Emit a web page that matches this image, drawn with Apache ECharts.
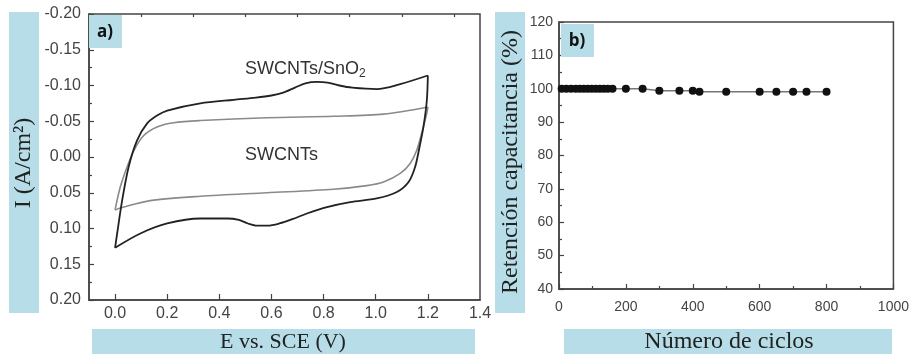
<!DOCTYPE html>
<html>
<head>
<meta charset="utf-8">
<script src="https://cdn.jsdelivr.net/npm/echarts@6/dist/echarts.min.js"></script>
<style>
html,body{margin:0;padding:0;background:#fff;}
#chart{width:912px;height:354px;}
</style>
</head>
<body>
<div id="chart"></div>
<script>
// ---- Panel a) cyclic voltammograms [E (V), I (A/cm2)] ----
var cvSnO2Forward = [[0.000,0.127],[0.008,0.107],[0.027,0.061],[0.052,0.014],[0.084,-0.023],[0.123,-0.047],[0.161,-0.058],[0.200,-0.065],[0.327,-0.075],[0.455,-0.080],[0.540,-0.083],[0.600,-0.086],[0.645,-0.090],[0.690,-0.097],[0.730,-0.103],[0.775,-0.105],[0.815,-0.104],[0.860,-0.100],[0.910,-0.097],[1.004,-0.095],[1.094,-0.102],[1.200,-0.114]];
var cvSnO2Reverse = [[1.200,-0.114],[1.196,-0.079],[1.183,-0.042],[1.168,-0.014],[1.151,0.014],[1.126,0.035],[1.081,0.049],[1.004,0.058],[0.902,0.063],[0.813,0.070],[0.736,0.079],[0.680,0.087],[0.630,0.093],[0.585,0.096],[0.545,0.096],[0.510,0.093],[0.475,0.088],[0.430,0.086],[0.327,0.086],[0.200,0.093],[0.097,0.107],[0.000,0.127]];
var cvSwForward = [[0.000,0.074],[0.020,0.042],[0.046,0.014],[0.072,-0.009],[0.110,-0.030],[0.161,-0.042],[0.225,-0.048],[0.327,-0.051],[0.583,-0.055],[0.838,-0.057],[1.030,-0.060],[1.200,-0.070]];
var cvSwReverse = [[1.200,-0.070],[1.196,-0.061],[1.176,-0.033],[1.157,-0.009],[1.132,0.009],[1.094,0.023],[1.030,0.035],[0.966,0.040],[0.838,0.045],[0.583,0.050],[0.327,0.055],[0.135,0.061],[0.033,0.070],[0.000,0.074]];
var xTicksA = [0, 0.2, 0.4, 0.6, 0.8, 1.0, 1.2, 1.4];
var xMinorA = [0.1, 0.3, 0.5, 0.7, 0.9, 1.1, 1.3];

// ---- Panel b) capacitance retention ----
var cycles = [8, 22, 36, 50, 62, 74, 86, 98, 110, 122, 134, 146, 160, 200, 250, 300, 360, 400, 420, 500, 600, 650, 700, 740, 800];
var retention = [100, 100, 100, 100, 100, 100, 100, 100, 100, 100, 100, 100, 100, 100, 100, 99.4, 99.4, 99.4, 99.1, 99.1, 99.1, 99.1, 99.1, 99.1, 99.1];

var labelsA = {a: 'a)', b: 'b)'};
var BLUE = '#B7DEE8';
var AX = '#444';
var chart = echarts.init(document.getElementById('chart'), null, {renderer: 'canvas'});

function zip(xs, ys){ return xs.map(function(x,i){ return [x, ys[i]]; }); }

var option = {
  animation: false,
  backgroundColor: '#fff',
  grid: [
    {left: 89, top: 14, width: 391, height: 286, show: true, borderColor: AX, borderWidth: 1.5, backgroundColor: 'transparent'},
    {left: 559, top: 22, width: 337, height: 267, show: true, borderColor: AX, borderWidth: 1.5, backgroundColor: 'transparent'}
  ],
  xAxis: [
    {gridIndex: 0, type: 'value', min: -0.1, max: 1.4, interval: 0.1,
     axisLine: {show: true, onZero: false, lineStyle: {color: AX, width: 1.5}},
     axisTick: {show: true, inside: true, length: 6, customValues: xTicksA.slice(0, 7), lineStyle: {color: AX, width: 1.2}},
     axisLabel: {customValues: xTicksA, margin: 6, color: '#444', fontSize: 16, fontFamily: 'Liberation Sans, Arial', formatter: function(v){ return v.toFixed(1); }},
     splitLine: {show: false}},
    {gridIndex: 0, type: 'value', min: -0.1, max: 1.4, interval: 0.1,
     axisLine: {show: false, onZero: false},
     axisTick: {show: true, inside: true, length: 3, customValues: xMinorA, lineStyle: {color: AX, width: 1.2}},
     axisLabel: {show: false},
     splitLine: {show: false}},
    {gridIndex: 1, type: 'value', min: 0, max: 1000, interval: 200,
     axisLine: {show: true, onZero: false, lineStyle: {color: AX, width: 1.5}},
     axisTick: {show: true, inside: true, length: 5, lineStyle: {color: AX, width: 1.2}},
     minorTick: {show: true, splitNumber: 2, length: 3, lineStyle: {color: AX, width: 1.2}},
     axisLabel: {margin: 11, color: '#444', fontSize: 14, fontFamily: 'Liberation Sans, Arial', showMaxLabel: true, formatter: function(v){ return String(v); }},
     splitLine: {show: false}}
  ],
  yAxis: [
    {gridIndex: 0, type: 'value', min: -0.2, max: 0.2, interval: 0.05, inverse: true,
     axisLine: {show: true, onZero: false, lineStyle: {color: AX, width: 1.5}},
     axisTick: {show: true, inside: true, length: 5, lineStyle: {color: AX, width: 1.2}},
     minorTick: {show: true, splitNumber: 2, length: 3, lineStyle: {color: AX, width: 1.2}},
     axisLabel: {margin: 8, color: '#444', fontSize: 16, fontFamily: 'Liberation Sans, Arial', formatter: function(v){ return v.toFixed(2); }},
     splitLine: {show: false}},
    {gridIndex: 1, type: 'value', min: 40, max: 120, interval: 10,
     axisLine: {show: true, onZero: false, lineStyle: {color: AX, width: 1.5}},
     axisTick: {show: true, inside: true, length: 5, lineStyle: {color: AX, width: 1.2}},
     minorTick: {show: true, splitNumber: 2, length: 3, lineStyle: {color: AX, width: 1.2}},
     axisLabel: {margin: 6, color: '#444', fontSize: 14, fontFamily: 'Liberation Sans, Arial'},
     splitLine: {show: false}}
  ],
  series: [
    {type: 'line', xAxisIndex: 0, yAxisIndex: 0, data: cvSwForward, smooth: 0.3, showSymbol: false, lineStyle: {color: '#8a8a8a', width: 1.6}, z: 2},
    {type: 'line', xAxisIndex: 0, yAxisIndex: 0, data: cvSwReverse, smooth: 0.3, showSymbol: false, lineStyle: {color: '#8a8a8a', width: 1.6}, z: 2},
    {type: 'line', xAxisIndex: 0, yAxisIndex: 0, data: cvSnO2Forward, smooth: 0.3, showSymbol: false, lineStyle: {color: '#222', width: 1.8}, z: 3},
    {type: 'line', xAxisIndex: 0, yAxisIndex: 0, data: cvSnO2Reverse, smooth: 0.3, showSymbol: false, lineStyle: {color: '#222', width: 1.8}, z: 3},
    {type: 'line', xAxisIndex: 2, yAxisIndex: 1, data: zip(cycles, retention), symbol: 'circle', symbolSize: 8,
     itemStyle: {color: '#111', borderWidth: 0},
     lineStyle: {color: '#777', width: 1.3}, z: 3}
  ],
  graphic: [
    // axis title boxes
    {type: 'rect', shape: {x: 9, y: 12, width: 30, height: 301}, style: {fill: BLUE}, z: 0},
    {type: 'rect', shape: {x: 92, y: 329, width: 383, height: 25}, style: {fill: BLUE}, z: 0},
    {type: 'rect', shape: {x: 495, y: 12, width: 30, height: 301}, style: {fill: BLUE}, z: 0},
    {type: 'rect', shape: {x: 564, y: 329, width: 328, height: 25}, style: {fill: BLUE}, z: 0},
    {type: 'text', x: 24, y: 163, rotation: Math.PI / 2, z: 5,
     style: {text: 'I (A/cm²)', textAlign: 'center', textVerticalAlign: 'middle', font: '24px "Liberation Serif", serif', fill: '#222'}},
    {type: 'text', x: 283, y: 342, z: 5,
     style: {text: 'E vs. SCE (V)', textAlign: 'center', textVerticalAlign: 'middle', font: '22px "Liberation Serif", serif', fill: '#222'}},
    {type: 'text', x: 511, y: 162, rotation: Math.PI / 2, z: 5,
     style: {text: 'Retención capacitancia (%)', textAlign: 'center', textVerticalAlign: 'middle', font: '24px "Liberation Serif", serif', fill: '#222'}},
    {type: 'text', x: 729, y: 342, z: 5,
     style: {text: 'Número de ciclos', textAlign: 'center', textVerticalAlign: 'middle', font: '24px "Liberation Serif", serif', fill: '#222'}},
    // panel tags
    {type: 'rect', shape: {x: 89, y: 15, width: 33, height: 33}, style: {fill: BLUE}, z: 10},
    {type: 'text', x: 105, y: 32, z: 11,
     style: {text: labelsA.a, textAlign: 'center', textVerticalAlign: 'middle', font: 'bold 17px "Open Sans", sans-serif', fill: '#111'}},
    {type: 'rect', shape: {x: 561, y: 24, width: 33, height: 33}, style: {fill: BLUE}, z: 10},
    {type: 'text', x: 577, y: 41, z: 11,
     style: {text: labelsA.b, textAlign: 'center', textVerticalAlign: 'middle', font: 'bold 17px "Open Sans", sans-serif', fill: '#111'}},
    // curve annotations
    {type: 'text', x: 245, y: 69, z: 5,
     style: {text: '{m|SWCNTs/SnO}{s|2}', textAlign: 'left', textVerticalAlign: 'middle',
       rich: {m: {fontSize: 18, fontFamily: 'Liberation Sans, Arial', fill: '#333', color: '#333', lineHeight: 22, verticalAlign: 'middle'},
              s: {fontSize: 12, fontFamily: 'Liberation Sans, Arial', fill: '#333', color: '#333', lineHeight: 22, verticalAlign: 'bottom', padding: [10, 0, 0, 0]}}}},
    {type: 'text', x: 245, y: 155, z: 5,
     style: {text: 'SWCNTs', textAlign: 'left', textVerticalAlign: 'middle', font: '18px "Liberation Sans", Arial', fill: '#333'}}
  ]
};
chart.setOption(option);
</script>
</body>
</html>
